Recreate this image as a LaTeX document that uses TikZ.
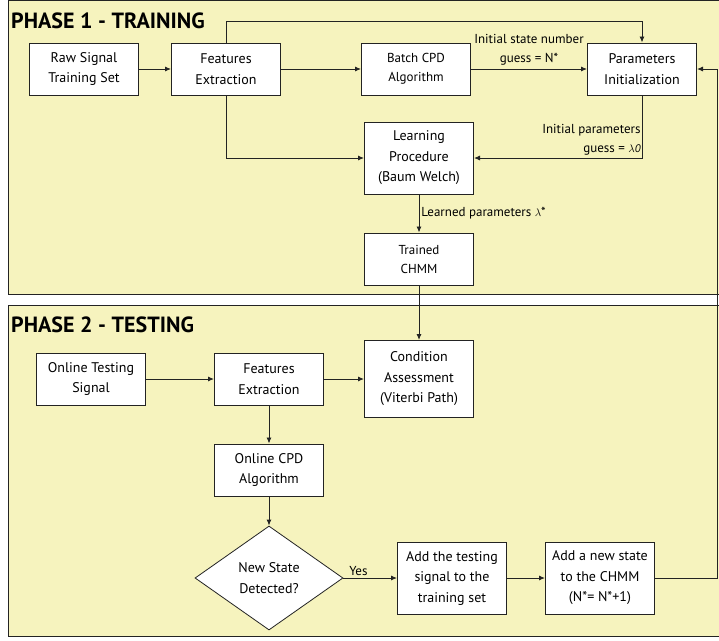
\documentclass[tikz,border=0pt]{standalone}
\usepackage{fontspec}
\setmainfont{PT Sans}
\usetikzlibrary{shapes.geometric,arrows.meta}

\definecolor{panelyellow}{RGB}{246,243,190}
\definecolor{linegray}{RGB}{35,35,35}

\newcommand{\smallgreek}[1]{{\fontsize{11}{13}\selectfont$#1$}}

\tikzset{
  panel/.style={draw=linegray, fill=panelyellow, line width=1pt},
  title/.style={font=\bfseries\fontsize{22}{25}\selectfont, inner sep=0pt, anchor=base west},
  box/.style={draw=linegray, fill=white, line width=1pt, minimum width=109pt,
    minimum height=52pt, align=center, inner sep=2pt,
    font=\fontsize{14}{20.5}\selectfont},
  tallbox/.style={box, minimum height=72pt},
  smallbox/.style={box, font=\fontsize{13}{19}\selectfont},
  decision/.style={diamond, draw=linegray, fill=white, line width=0.8pt,
    minimum width=148pt, minimum height=104pt, inner sep=0pt, align=center,
    font=\fontsize{14}{20.5}\selectfont},
  flow/.style={draw=linegray, line width=0.9pt, -{Latex[length=6pt,width=5pt]}},
  lbl/.style={font=\fontsize{13}{19.5}\selectfont, align=center, inner sep=2pt},
}

\begin{document}
\begin{tikzpicture}[x=1pt, y=-1pt]
  \useasboundingbox (0,0) rectangle (719,640);
  \clip (0,0) rectangle (719,640);

  % Draw the two phase panels
  \draw[panel] (8,0.5) rectangle (740,294);
  \draw[panel] (8,305) rectangle (740,636);
  \node[title] (phase1) at (11,28.5) {PHASE 1 - TRAINING};
  \node[title] (phase2) at (11,332.5) {PHASE 2 - TESTING};

  % Phase 1 blocks
  \node[box] (raw) at (84,69) {Raw Signal\\Training Set};
  \node[box] (feat1) at (226,69) {Features\\Extraction};
  \node[smallbox] (batch) at (416,69) {Batch CPD\\Algorithm};
  \node[box] (param) at (642,69) {Parameters\\Initialization};
  \node[tallbox] (learn) at (419,158) {Learning\\Procedure\\(Baum Welch)};
  \node[smallbox] (trained) at (419,259) {Trained\\CHMM};

  % Phase 2 blocks
  \node[box] (online) at (91,379) {Online Testing\\Signal};
  \node[box] (feat2) at (269,379) {Features\\Extraction};
  \node[tallbox, minimum height=77pt] (cond) at (419,379) {Condition\\Assessment\\(Viterbi Path)};
  \node[box] (ocpd) at (269,470) {Online CPD\\Algorithm};
  \node[decision] (newstate) at (269,578) {New State\\Detected?};
  \node[tallbox] (addsig) at (452,578) {Add the testing\\signal to the\\training set};
  \node[tallbox] (addstate) at (600,578) {Add a new state\\to the CHMM\\(N*= N*+1)};
  \coordinate (back) at (717.5,578);

  % Draw connectors of phase 1
  \draw[flow] (raw) -- (feat1);
  \draw[flow] (feat1) -- (batch);
  \draw[flow] (feat1.north) -- ++(0,-21) -| (param.north);
  \draw[flow] (feat1.south) |- (learn.west);
  \draw[flow] (batch) -- node[lbl, above=1pt] {Initial state number\\guess = N*} (param);
  \draw[flow] (param.south) |- node[pos=0.5, lbl, above left, align=right, inner xsep=1pt] {Initial parameters\\guess = \smallgreek{\lambda}{\fontsize{11}{13}\selectfont\itshape 0}} (learn.east);
  \draw[flow] (learn) -- node[lbl, right, font=\fontsize{13}{15}\selectfont] {Learned parameters \smallgreek{\lambda}*} (trained);
  \draw[flow] (trained) -- (cond);

  % Draw connectors of phase 2
  \draw[flow] (online) -- (feat2);
  \draw[flow] (feat2) -- (cond);
  \draw[flow] (feat2) -- (ocpd);
  \draw[flow] (ocpd) -- (newstate);
  \draw[flow] (newstate) -- node[lbl, above, pos=0.28] {Yes} (addsig);
  \draw[flow] (addsig) -- (addstate);
  \draw[flow] (addstate) -- (back) |- (param.east);
\end{tikzpicture}
\end{document}
